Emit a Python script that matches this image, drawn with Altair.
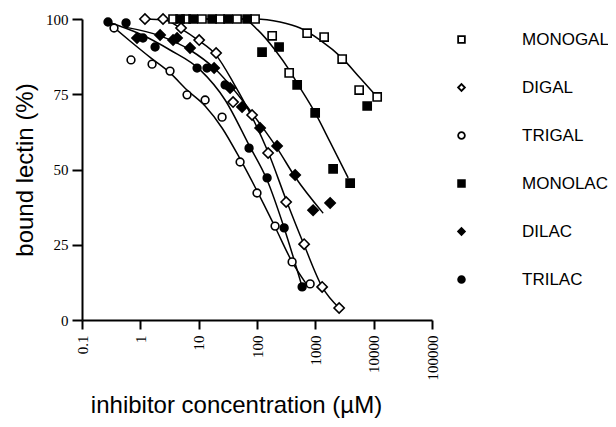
import altair as alt
import pandas as pd

series = ["MONOGAL", "DIGAL", "TRIGAL", "MONOLAC", "DILAC", "TRILAC"]
shapes = ["square", "diamond", "circle", "square", "diamond", "circle"]
fills = ["white", "white", "white", "black", "black", "black"]
strokes = ["black"] * 6
# marker groups and their sizes
square_series = ["MONOGAL", "MONOLAC"]
diamond_series = ["DIGAL", "DILAC"]
circle_series = ["TRIGAL", "TRILAC"]
square_size, diamond_size, circle_size = 66, 105, 60

x_ticks = [0.1, 1, 10, 100, 1000, 10000, 100000]
y_ticks = [0, 25, 50, 75, 100]

# measured points (concentration µM, % bound)
MONOGAL_x = [3.64, 6.08, 11.4, 23.3, 45.6, 92.7, 182, 356, 723, 1416, 2884, 5636, 11482]
MONOGAL_y = [100, 100, 100, 100, 100, 100, 94.4, 82.1, 95.3, 94.0, 86.7, 76.4, 74.1]
DIGAL_x = [1.20, 2.45, 4.99, 10.2, 19.9, 38.9, 82.4, 155, 316, 643, 1309, 2559]
DIGAL_y = [100, 100, 97.0, 93.0, 88.7, 72.4, 68.1, 55.5, 39.2, 25.2, 11.0, 4.0]
TRIGAL_x = [0.354, 0.692, 1.59, 3.23, 6.32, 12.9, 25.2, 51.3, 100, 204, 400, 815]
TRIGAL_y = [97.0, 86.4, 85.0, 82.7, 74.8, 73.1, 67.4, 52.5, 42.2, 31.2, 19.3, 12.0]
MONOLAC_x = [4.80, 8.02, 17.0, 31.9, 67.6, 122, 239, 488, 993, 2018, 3954, 7740]
MONOLAC_y = [100, 100, 100, 100, 100, 89.0, 90.7, 78.1, 68.8, 50.2, 45.5, 71.1]
DILAC_x = [0.877, 2.18, 3.64, 4.26, 7.11, 18.4, 34.6, 55.5, 113, 221, 451, 916, 1795]
DILAC_y = [93.7, 94.7, 93.0, 93.7, 90.4, 83.7, 77.1, 70.8, 63.8, 57.8, 48.2, 36.5, 38.9]
TRILAC_x = [0.279, 0.569, 1.11, 1.79, 9.39, 13.9, 28.4, 73.1, 149, 292, 594]
TRILAC_y = [99.0, 98.7, 93.7, 90.7, 83.7, 83.7, 78.1, 57.1, 47.2, 30.6, 11.0]

# fitted curves
MONOGAL_fit_x = [3.50, 92.7, 249, 549, 1208, 2884, 5861, 11482]
MONOGAL_fit_y = [100, 100, 99.0, 97.0, 93.0, 87.0, 80.4, 74.1]
DIGAL_fit_x = [1.20, 2.65, 4.80, 9.77, 19.9, 40.5, 82.4, 155, 316, 643, 1309, 2559]
DIGAL_fit_y = [100, 99.7, 97.0, 93.0, 88.0, 78.4, 67.4, 55.8, 39.9, 24.9, 11.0, 4.0]
TRIGAL_fit_x = [0.327, 0.665, 1.53, 3.23, 6.32, 12.9, 25.2, 51.3, 100, 204, 400, 723]
TRIGAL_fit_y = [97.7, 92.7, 87.0, 82.1, 76.4, 71.1, 63.8, 53.5, 42.9, 30.9, 19.3, 11.6]
MONOLAC_fit_x = [3.50, 57.8, 104, 204, 356, 488, 993, 1795, 3656]
MONOLAC_fit_y = [100, 100, 96.3, 89.7, 83.1, 78.7, 68.8, 59.1, 47.2]
DILAC_fit_x = [0.547, 2.18, 7.11, 18.4, 55.5, 113, 221, 451, 1361]
DILAC_fit_y = [97.3, 94.4, 89.7, 83.7, 73.1, 65.1, 57.1, 47.5, 35.5]
TRILAC_fit_x = [0.279, 0.989, 3.23, 10.6, 28.4, 73.1, 149, 292, 594]
TRILAC_fit_y = [99.0, 95.0, 89.7, 83.1, 73.1, 58.1, 46.5, 30.6, 11.0]

pt_data = {
    "MONOGAL": (MONOGAL_x, MONOGAL_y), "DIGAL": (DIGAL_x, DIGAL_y),
    "TRIGAL": (TRIGAL_x, TRIGAL_y), "MONOLAC": (MONOLAC_x, MONOLAC_y),
    "DILAC": (DILAC_x, DILAC_y), "TRILAC": (TRILAC_x, TRILAC_y),
}
fit_data = {
    "MONOGAL": (MONOGAL_fit_x, MONOGAL_fit_y), "DIGAL": (DIGAL_fit_x, DIGAL_fit_y),
    "TRIGAL": (TRIGAL_fit_x, TRIGAL_fit_y), "MONOLAC": (MONOLAC_fit_x, MONOLAC_fit_y),
    "DILAC": (DILAC_fit_x, DILAC_fit_y), "TRILAC": (TRILAC_fit_x, TRILAC_fit_y),
}

pts = pd.DataFrame([{"series": s, "conc": x, "pct": y}
                    for s, (xs, ys) in pt_data.items() for x, y in zip(xs, ys)])
fits = pd.DataFrame([{"series": s, "conc": x, "pct": y}
                     for s, (xs, ys) in fit_data.items() for x, y in zip(xs, ys)])

xscale = alt.Scale(type="log", domain=[0.1, 100000], nice=False)
yscale = alt.Scale(domain=[0, 100], nice=False)

xaxis = alt.Axis(values=x_ticks, format="~g", labelAngle=270, grid=False,
                 title="inhibitor concentration (µM)", titleX=154, titleY=92,
                 titleAlign="center", titleBaseline="alphabetic",
                 titleFont="Liberation Sans", titleFontSize=24, titleFontWeight="normal",
                 labelFont="Liberation Serif", labelFontSize=15, labelPadding=6,
                 tickSize=9)
yaxis = alt.Axis(values=y_ticks, grid=False, title="bound lectin (%)",
                 titleX=-50, titleY=150.5, titleAngle=270, titleAlign="center",
                 titleBaseline="alphabetic", titleFont="Liberation Sans",
                 titleFontSize=24, titleFontWeight="normal",
                 labelFont="Liberation Serif", labelFontSize=15, labelPadding=4,
                 tickSize=10)

legend = alt.Legend(title=None, orient="none", legendX=371, legendY=12,
                    labelFont="Liberation Sans", labelFontSize=17, labelColor="black",
                    symbolSize=45, symbolStrokeWidth=1.8, symbolStrokeColor="black",
                    rowPadding=30, labelOffset=52, padding=0)

lines = alt.Chart(fits).mark_line(color="black", strokeWidth=1.5, interpolate="monotone").encode(
    x=alt.X("conc:Q", scale=xscale, axis=xaxis),
    y=alt.Y("pct:Q", scale=yscale, axis=yaxis),
    detail="series:N",
)


def point_layer(group, size):
    return alt.Chart(pts).transform_filter(
        alt.FieldOneOfPredicate(field="series", oneOf=group)
    ).mark_point(filled=True, strokeWidth=1.6, opacity=1, size=size).encode(
        x=alt.X("conc:Q", scale=xscale),
        y=alt.Y("pct:Q", scale=yscale),
        shape=alt.Shape("series:N", scale=alt.Scale(domain=series, range=shapes), legend=legend),
        fill=alt.Fill("series:N", scale=alt.Scale(domain=series, range=fills), legend=legend),
        stroke=alt.Stroke("series:N", scale=alt.Scale(domain=series, range=strokes), legend=legend),
    )


chart = alt.layer(
    lines,
    point_layer(square_series, square_size),
    point_layer(diamond_series, diamond_size),
    point_layer(circle_series, circle_size),
).properties(
    width=350, height=301,
    padding={"left": 74, "top": 11, "right": 176, "bottom": 100},
    autosize=alt.AutoSizeParams(type="none"),
).configure_view(stroke=None).configure_axis(
    domainColor="black", domainWidth=2, tickColor="black", tickWidth=2,
    labelColor="black", titleColor="black",
)

chart.save("out.html", embed_options={"renderer": "svg", "actions": False})
